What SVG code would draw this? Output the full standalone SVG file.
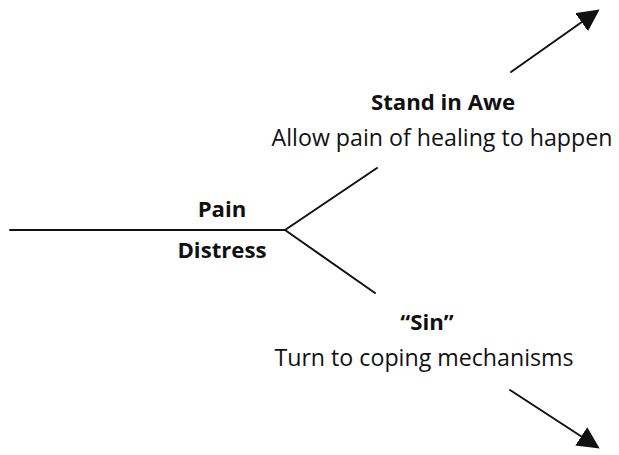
<svg xmlns="http://www.w3.org/2000/svg" width="619" height="455" viewBox="0 0 619 455">
<style>
.ln{stroke:#111;stroke-width:2;fill:none;stroke-linecap:round}
.b{font-family:"Open Sans","Liberation Sans",sans-serif;font-weight:bold;font-size:22.2px;fill:#111;text-anchor:middle}
.r{font-family:"Open Sans","Liberation Sans",sans-serif;font-size:23.2px;fill:#111;text-anchor:middle}
</style>
<defs>
<marker id="ah2" viewBox="0 0 10 10" refX="8" refY="5" markerWidth="22" markerHeight="22" markerUnits="userSpaceOnUse" orient="auto">
<path d="M0,0 L10,5 L0,10 Z" fill="#111"/>
</marker>
</defs>
<g id="connectors">
<path class="ln" d="M10,230 L285,230"/>
<path class="ln" d="M285,230 L377,168"/>
<path class="ln" d="M285,230 L375,293"/>
<path class="ln" d="M511,72 L596,12" marker-end="url(#ah2)"/>
<path class="ln" d="M510,390 L596,446" marker-end="url(#ah2)"/>
</g>
<g id="pain"><text class="b" x="222" y="217">Pain</text></g>
<g id="distress"><text class="b" x="222" y="258">Distress</text></g>
<g id="awe"><text class="b" x="443" y="110">Stand in Awe</text><text class="r" x="442" y="146">Allow pain of healing to happen</text></g>
<g id="sin"><text class="b" x="427" y="330">“Sin”</text><text class="r" x="424" y="366">Turn to coping mechanisms</text></g>
</svg>
